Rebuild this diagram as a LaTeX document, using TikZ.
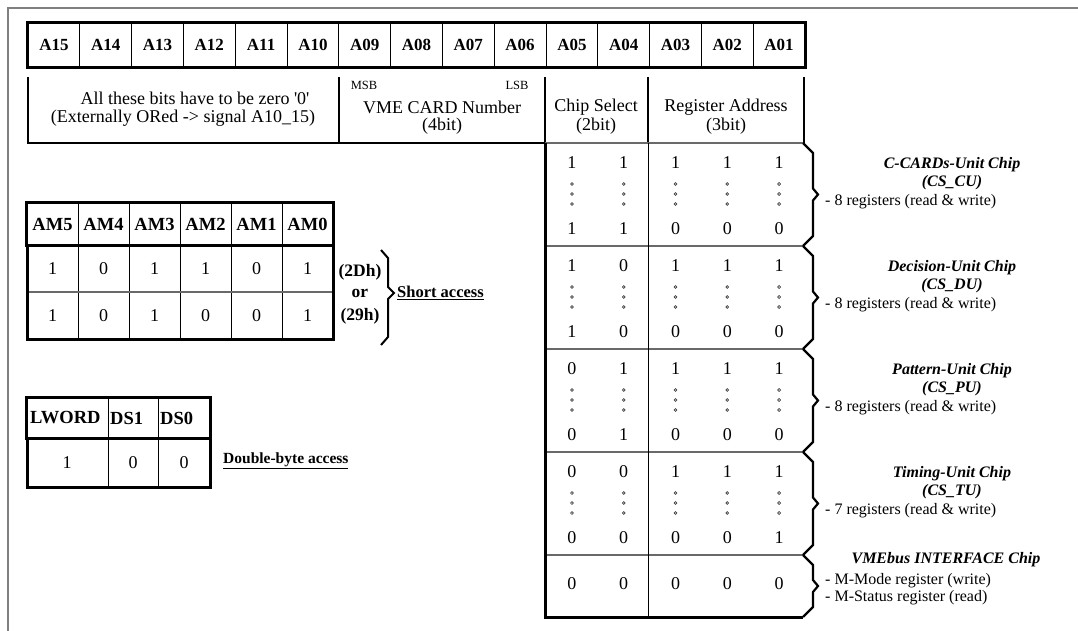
\documentclass[tikz,border=0pt]{standalone}
\usepackage{fontspec}
\setmainfont{Liberation Serif}
\usetikzlibrary{positioning}
\definecolor{cFrame}{RGB}{128,128,128}
\definecolor{cRule}{RGB}{105,105,105}

\begin{document}
\begin{tikzpicture}[x=1pt,y=-1pt,
   hcell/.style={draw,line width=0.8pt,minimum width=51.8pt,minimum height=44pt,inner sep=0pt,font=\fontsize{17}{20}\selectfont\bfseries},
   amcell/.style={draw,line width=0.8pt,minimum width=51pt,minimum height=42pt,inner sep=0pt,font=\fontsize{18.5}{20}\selectfont\bfseries},
   txt/.style={inner sep=0pt,font=\fontsize{18}{20}\selectfont},
   small/.style={inner sep=0pt,font=\fontsize{12.5}{14}\selectfont},
   val/.style={inner sep=0pt,font=\fontsize{18}{20}\selectfont},
   bval/.style={inner sep=0pt,font=\fontsize{17.5}{20}\selectfont\bfseries},
   note/.style={inner sep=0pt,anchor=west,font=\fontsize{16.5}{20}\selectfont\bfseries},
   chiphead/.style={inner sep=0pt,font=\fontsize{16}{18}\selectfont\bfseries\itshape},
   chipreg/.style={inner sep=0pt,anchor=west,font=\fontsize{16}{18}\selectfont},
   thickline/.style={draw,line width=3.5pt},
   rowline/.style={draw,line width=2.4pt},
   sepline/.style={draw,cRule,line width=1.2pt},
   brace/.style={draw,line width=2.2pt,line join=miter},
   dotc/.style={draw,black!75,line width=0.7pt}]
 \useasboundingbox (0,0) rectangle (1078,631);
 % outer frame (top and left only)
 \draw[cFrame,line width=2pt] (8,631) -- (8,8) -- (1078,8);

 % address bits A15 ... A01
 \foreach \lab [count=\i from 0] in {A15,A14,A13,A12,A11,A10,A09,A08,A07,A06,A05,A04,A03,A02,A01}
   \node[hcell] (\lab) at ({28+51.8*(\i+0.5)},45) {\lab};
 \draw[thickline] (A15.north west) rectangle (A01.south east);

 % field description row
 \draw[rowline] (28,77) -- (28,143) -- (545,143);
 \foreach \x in {339,545,648,804}
   \draw[rowline] (\x,77) -- (\x,143);
 \node[txt] (zeroA) at (195,98) {All these bits have to be zero \textquotesingle 0\textquotesingle};
 \node[txt] (zeroB) at (183,118) {(Externally ORed -> signal A10\_15)};
 \node[small] (msb) at (364,85) {MSB};
 \node[small] (lsb) at (517,85) {LSB};
 \node[txt] (card) at (442,107) {VME CARD Number};
 \node[txt] (cardw) at (442,126) {(4bit)};
 \node[txt] (cs) at (596,107) {Chip Select};
 \node[txt] (csw) at (596,126) {(2bit)};
 \node[txt] (ra) at (726,107) {Register Address};
 \node[txt] (raw) at (726,126) {(3bit)};

 % register table
 \foreach \y in {143,246,349,452,555}
   \draw[sepline] (545,\y) -- (803,\y);
 \draw[black,line width=1pt] (648,143) -- (648,617);
 \draw[line width=3pt] (545,143) -- (545,617) -- (803,617);
 \foreach \r/\top/\bot in {0/{1,1,1,1,1}/{1,1,0,0,0},1/{1,0,1,1,1}/{1,0,0,0,0},
                           2/{0,1,1,1,1}/{0,1,0,0,0},3/{0,0,1,1,1}/{0,0,0,0,1}} {
   \pgfmathsetmacro{\T}{143+103*\r}
   \foreach \v [count=\c from 0] in \top
     \node[val] (t\r\c) at ({571.9+51.8*\c},{\T+20}) {\v};
   \foreach \v [count=\c from 0] in \bot
     \node[val] (b\r\c) at ({571.9+51.8*\c},{\T+86}) {\v};
   \foreach \c in {0,...,4}
     \foreach \d in {41,51,61}
       \draw[dotc] ({571.9+51.8*\c},{\T+\d}) circle (1.4);
 }
 \foreach \c in {0,...,4}
   \node[val] (v4\c) at ({571.9+51.8*\c},584) {0};

 % braces and chip names
 \foreach \t/\b in {143/246,246/349,349/452,452/555,555/617} {
   \pgfmathsetmacro{\m}{(\t+\b)/2}
   \draw[brace] (803,\t) -- (813,{\t+10}) -- (813,{\m-6}) -- (818,\m) -- (813,{\m+6}) -- (813,{\b-10}) -- (803,\b);
 }
 \foreach \m/\name/\code/\n [count=\k] in {194.5/C-CARDs-Unit Chip/CS\_CU/8,297.5/Decision-Unit Chip/CS\_DU/8,
                                           400.5/Pattern-Unit Chip/CS\_PU/8,503.5/Timing-Unit Chip/CS\_TU/7} {
   \node[chiphead] (chip\k) at (952,{\m-30}) {\name};
   \node[chiphead] (code\k) at (952,{\m-12}) {(\code)};
   \node[chipreg] (regs\k) at (825,{\m+7}) {- \n\ registers (read \& write)};
 }
 \node[chiphead] (chip5) at (946,560) {VMEbus INTERFACE Chip};
 \node[chipreg] (mode5) at (825,581) {- M-Mode register (write)};
 \node[chipreg] (stat5) at (825,598) {- M-Status register (read)};

 % address modifier table
 \foreach \lab [count=\i from 0] in {AM5,AM4,AM3,AM2,AM1,AM0}
   \node[amcell] (\lab) at ({27+51*(\i+0.5)},224) {\lab};
 \draw[thickline] (AM5.north west) rectangle (AM0.south east);
 \foreach \x in {78,129,180,231,282}
   \draw[line width=0.8pt] (\x,245) -- (\x,339);
 \draw[sepline] (27,292) -- (333,292);
 \draw[line width=3pt] (27,245) -- (27,339) -- (333,339) -- (333,245);
 \foreach \a/\b [count=\c from 0] in {1/1,0/0,1/1,1/0,0/0,1/1} {
   \node[val] (am\c a) at ({27+51*(\c+0.5)},269) {\a};
   \node[val] (am\c b) at ({27+51*(\c+0.5)},316) {\b};
 }
 \node[bval] (hex1) at (360,272) {(2Dh)};
 \node[bval] (hexor) at (360,293) {or};
 \node[bval] (hex2) at (360,316) {(29h)};
 \draw[brace,line width=2pt] (381,250) -- (388,258) -- (388,287) -- (394,293) -- (388,299) -- (388,337) -- (381,345);
 \node[note] (short) at (397,293) {\underline{Short access}};

 % data strobe table
 \node[amcell,minimum width=81pt,minimum height=40pt] (lw) at (67.5,418) {};
 \node[amcell,minimum width=50pt,minimum height=40pt] (ds1) at (133,418) {};
 \node[amcell,minimum width=52pt,minimum height=40pt] (ds0) at (184,418) {};
 \node[bval,anchor=west,font=\fontsize{18.5}{20}\selectfont\bfseries] (lwt) at (30,418) {LWORD};
 \node[bval,anchor=west,font=\fontsize{18.5}{20}\selectfont\bfseries] (ds1t) at (110,418) {DS1};
 \node[bval,anchor=west,font=\fontsize{18.5}{20}\selectfont\bfseries] (ds0t) at (160,418) {DS0};
 \draw[thickline] (lw.north west) rectangle (ds0.south east);
 \foreach \x in {108,158}
   \draw[line width=0.8pt] (\x,438) -- (\x,487);
 \draw[line width=3pt] (27,438) -- (27,487) -- (210,487) -- (210,438);
 \node[val] (lwv) at (67,463) {1};
 \node[val] (ds1v) at (133,463) {0};
 \node[val] (ds0v) at (184,463) {0};
 \node[note,font=\fontsize{15.5}{18}\selectfont\bfseries] (dbyte) at (223,461) {\underline{Double-byte access}};
\end{tikzpicture}
\end{document}
